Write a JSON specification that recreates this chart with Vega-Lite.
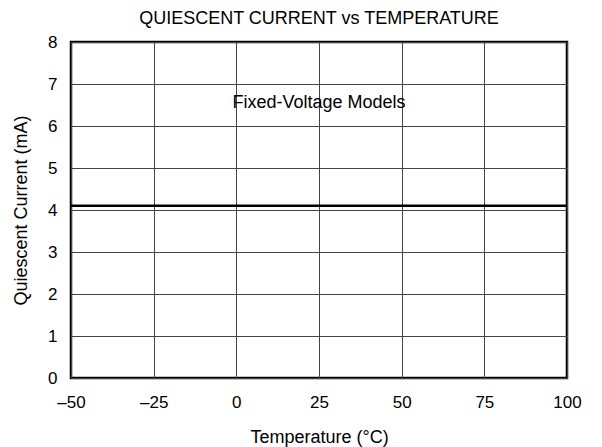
{
  "$schema": "https://vega.github.io/schema/vega-lite/v6.json",
  "autosize": "none",
  "width": 496,
  "height": 336,
  "padding": {"left": 71, "top": 42, "right": 35, "bottom": 69},
  "background": "white",
  "title": {"text": "QUIESCENT CURRENT vs TEMPERATURE", "font": "Liberation Sans", "fontSize": 18, "fontWeight": "normal", "color": "black", "offset": 5},
  "config": {
    "view": {"stroke": "black", "strokeWidth": 2.5},
    "axis": {"labelFont": "Liberation Sans", "titleFont": "Liberation Sans", "labelFontSize": 17, "titleFontSize": 18, "titleFontWeight": "normal", "labelColor": "black", "titleColor": "black", "domain": false, "ticks": false, "labelFlush": false, "gridColor": "#444444", "gridWidth": 1, "gridOpacity": 1}
  },
  "layer": [
    {
      "data": {"values": [{"t": -50, "i": 4.1}, {"t": 100, "i": 4.1}]},
      "mark": {"type": "line", "color": "black", "strokeWidth": 2.5},
      "encoding": {
        "x": {"field": "t", "type": "quantitative", "scale": {"domain": [-50, 100], "nice": false}, "axis": {"values": [-50, -25, 0, 25, 50, 75, 100], "title": "Temperature (°C)", "labelPadding": 16, "labelFlush": false, "titleY": 50, "labelExpr": "replace(datum.label, '−', '–')"}},
        "y": {"field": "i", "type": "quantitative", "scale": {"domain": [0, 8], "nice": false}, "axis": {"values": [0, 1, 2, 3, 4, 5, 6, 7, 8], "title": "Quiescent Current (mA)", "labelPadding": 14, "titleX": -41}}
      }
    },
    {
      "data": {"values": [{"t": 25, "i": 6.55, "label": "Fixed-Voltage Models"}]},
      "mark": {"type": "text", "font": "Liberation Sans", "fontSize": 18, "color": "black", "align": "center", "baseline": "middle"},
      "encoding": {
        "x": {"field": "t", "type": "quantitative"},
        "y": {"field": "i", "type": "quantitative"},
        "text": {"field": "label"}
      }
    }
  ]
}
